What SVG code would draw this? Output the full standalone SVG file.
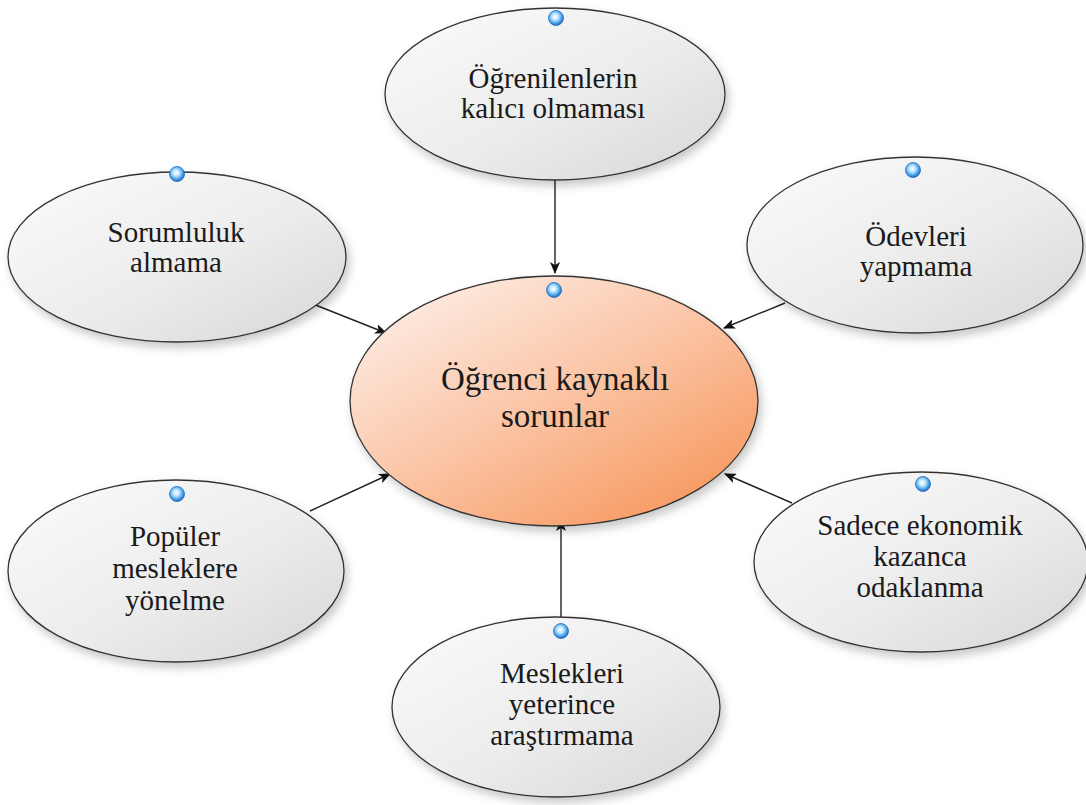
<svg xmlns="http://www.w3.org/2000/svg" width="1086" height="805" viewBox="0 0 1086 805">
  <defs>
    <linearGradient id="gGray" x1="0" y1="0" x2="1" y2="1">
      <stop offset="0" stop-color="#fbfbfb"/>
      <stop offset="0.55" stop-color="#ececec"/>
      <stop offset="1" stop-color="#d6d6d6"/>
    </linearGradient>
    <linearGradient id="gCore" x1="0.1" y1="0.05" x2="0.9" y2="0.95">
      <stop offset="0" stop-color="#fdeee6"/>
      <stop offset="0.45" stop-color="#fbc8ab"/>
      <stop offset="1" stop-color="#f7965a"/>
    </linearGradient>
    <radialGradient id="gDot" cx="0.45" cy="0.42" r="0.6">
      <stop offset="0" stop-color="#ffffff"/>
      <stop offset="0.35" stop-color="#bfe6ff"/>
      <stop offset="0.75" stop-color="#3f9be6"/>
      <stop offset="1" stop-color="#1a5aa8"/>
    </radialGradient>
    <filter id="shadow" x="-10%" y="-10%" width="125%" height="130%">
      <feDropShadow dx="3" dy="5" stdDeviation="5" flood-color="#000" flood-opacity="0.22"/>
    </filter>
    <marker id="arrow" viewBox="0 0 12 10" refX="11" refY="5" markerWidth="12" markerHeight="10" markerUnits="userSpaceOnUse" orient="auto">
      <path d="M0,0 L12,5 L0,10 L3,5 Z" fill="#111"/>
    </marker>
  </defs>
  <style>
    .node { fill: url(#gGray); stroke: #333; stroke-width: 1.3; filter: url(#shadow); }
    .core { fill: url(#gCore); stroke: #333; stroke-width: 1.3; filter: url(#shadow); }
    .dot { fill: url(#gDot); stroke: #2a6fb8; stroke-width: 0.8; }
    .lbl { font-size: 29px; fill: #1a1a1a; text-anchor: middle; }
    .lblc { font-size: 33px; fill: #1a1a1a; text-anchor: middle; }
    .edge { stroke: #222; stroke-width: 1.4; fill: none; marker-end: url(#arrow); }
  </style>

  <rect width="1086" height="805" fill="#ffffff"/>

  <!-- connectors: each outer cause points into the central problem -->
  <g id="connectors">
    <line class="edge" x1="555" y1="180" x2="555" y2="273"/>
    <line class="edge" x1="313" y1="304" x2="386" y2="333"/>
    <line class="edge" x1="785" y1="303" x2="724" y2="328"/>
    <line class="edge" x1="310" y1="511" x2="390" y2="474"/>
    <line class="edge" x1="792" y1="503" x2="725" y2="474"/>
    <line class="edge" x1="561" y1="617" x2="561" y2="520"/>
  </g>

  <g font-family="'Liberation Serif', 'DejaVu Serif', serif">
  <g id="node-kalici">
    <ellipse class="node" cx="555" cy="94" rx="170" ry="86"/>
    <circle class="dot" cx="556" cy="18" r="7.5"/>
    <text class="lbl" x="553" y="88">Öğrenilenlerin</text>
    <text class="lbl" x="553" y="118">kalıcı olmaması</text>
  </g>

  <g id="node-sorumluluk">
    <ellipse class="node" cx="177" cy="257" rx="169" ry="85"/>
    <circle class="dot" cx="177" cy="174" r="7.5"/>
    <text class="lbl" x="176" y="242">Sorumluluk</text>
    <text class="lbl" x="176" y="272">almama</text>
  </g>

  <g id="node-odev">
    <ellipse class="node" cx="915" cy="245" rx="168" ry="88"/>
    <circle class="dot" cx="913" cy="170" r="7.5"/>
    <text class="lbl" x="916" y="246">Ödevleri</text>
    <text class="lbl" x="916" y="276">yapmama</text>
  </g>

  <g id="node-populer">
    <ellipse class="node" cx="176" cy="571" rx="168" ry="91"/>
    <circle class="dot" cx="177" cy="494" r="7.5"/>
    <text class="lbl" x="175" y="546">Popüler</text>
    <text class="lbl" x="175" y="578">mesleklere</text>
    <text class="lbl" x="175" y="610">yönelme</text>
  </g>

  <g id="node-ekonomik">
    <ellipse class="node" cx="921" cy="562" rx="167" ry="90"/>
    <circle class="dot" cx="923" cy="484" r="7.5"/>
    <text class="lbl" x="920" y="535">Sadece ekonomik</text>
    <text class="lbl" x="920" y="566">kazanca</text>
    <text class="lbl" x="920" y="597">odaklanma</text>
  </g>

  <g id="node-meslek">
    <ellipse class="node" cx="556" cy="707" rx="164" ry="90"/>
    <circle class="dot" cx="561" cy="631" r="7.5"/>
    <text class="lbl" x="562" y="683">Meslekleri</text>
    <text class="lbl" x="562" y="714">yeterince</text>
    <text class="lbl" x="562" y="745">araştırmama</text>
  </g>

  <g id="node-core">
    <ellipse class="core" cx="554" cy="401" rx="204" ry="125"/>
    <circle class="dot" cx="554" cy="290" r="7.5"/>
    <text class="lblc" x="555" y="390">Öğrenci kaynaklı</text>
    <text class="lblc" x="555" y="427">sorunlar</text>
  </g>
  </g>
</svg>
